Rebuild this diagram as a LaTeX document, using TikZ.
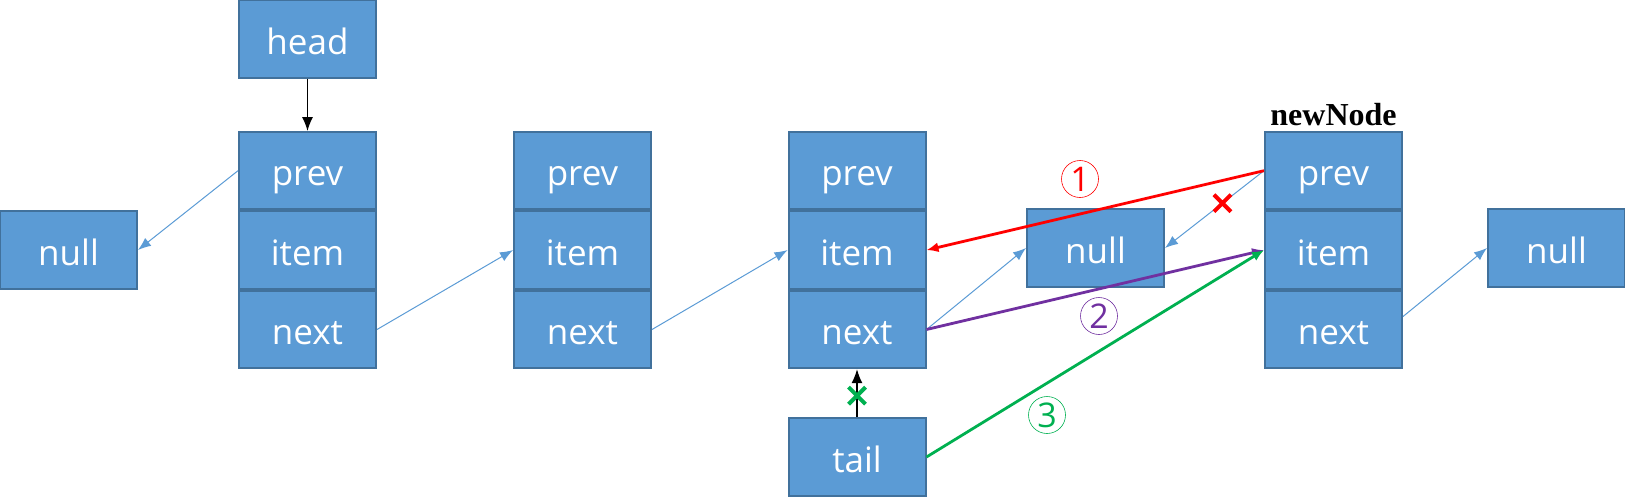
\documentclass[tikz,border=0pt]{standalone}
\usepackage{fontspec}
\setmainfont{Open Sans}
\newfontfamily\labelfont{Liberation Serif}
\usetikzlibrary{positioning,arrows.meta,shapes.misc}

\definecolor{boxfill}{HTML}{5B9BD5}
\definecolor{boxline}{HTML}{41719C}
\definecolor{stepred}{HTML}{FF0000}
\definecolor{steppurple}{HTML}{7030A0}
\definecolor{stepgreen}{HTML}{00B050}

\begin{document}
\begin{tikzpicture}[x=0.5pt,y=-0.5pt,
  cell/.style={rectangle,draw=boxline,fill=boxfill,line width=1pt,text=white,
    minimum width=68.5pt,minimum height=38.7pt,inner sep=0pt,
    text height=15pt,text depth=0pt,
    font=\fontsize{17.5}{20}\selectfont},
  link/.style={draw=boxfill,line width=0.5pt,-{Latex[length=6.5pt,width=5pt]}},
  ptr/.style={draw=black,line width=0.6pt,-{Latex[length=7pt,width=5.5pt]}},
  stepline/.style={line width=1.4pt,-{Latex[length=6pt,width=5pt]}},
  stepno/.style={circle,draw=#1,text=#1,line width=0.3pt,minimum size=18.5pt,
    inner sep=0pt,font=\fontsize{17}{20}\selectfont},
  nolink/.style={cross out,draw=#1,line width=2pt,minimum size=6.5pt,inner sep=0pt}]
\useasboundingbox (0,0) rectangle (1625,503);

% list nodes: prev / item / next
\foreach \n/\x in {a/307.5,b/582.5,c/857,d/1333.5} {
  \node[cell] (\n1) at (\x,170.7) {prev};
  \node[cell,below=0pt of \n1] (\n2) {item};
  \node[cell,below=0pt of \n2] (\n3) {next};
}
\node[cell] (head) at (307.5,39) {head};
\node[cell] (tail) at (857,457) {tail};
\node[cell] (nullL) at (68.5,250) {null};
\node[cell] (nullM) at (1095.5,248) {null};
\node[cell] (nullR) at (1556.5,248) {null};
\node[font=\labelfont\bfseries\fontsize{16}{18}\selectfont,above=-1pt of d1] (newlabel) {newNode};

% old links
\draw[ptr] (head) -- (a1);
\draw[link] (a1.west) -- (nullL.east);
\draw[link] (a3.east) -- (b2.west);
\draw[link] (b3.east) -- (c2.west);
\draw[link] (c3.east) -- (nullM.west);
\draw[link] (d1.west) -- node[pos=0.42,nolink=stepred] {} (nullM.east);
\draw[link] ([yshift=6.5pt]d3.east) -- (nullR.west);
\draw[ptr] (tail) -- node[pos=0.45,nolink=stepgreen] {} (c3);

% insertion steps
\draw[stepline,stepred] (d1.west) -- (c2.east);
\draw[stepline,steppurple] (c3.east) -- (d2.west);
\draw[stepline,stepgreen] (tail.east) -- (d2.west);
\node[stepno=stepred] (one) at (1080,179) {1};
\node[stepno=steppurple] (two) at (1099,316) {2};
\node[stepno=stepgreen] (three) at (1047,415) {3};
\end{tikzpicture}
\end{document}
